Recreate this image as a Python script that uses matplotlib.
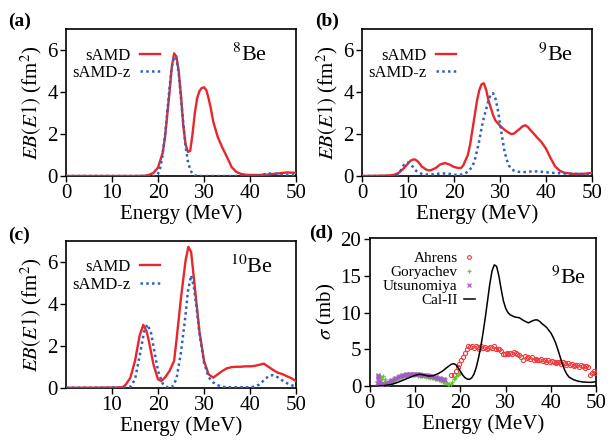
import matplotlib
matplotlib.use('Agg')
import matplotlib.pyplot as plt

plt.rcParams['font.family'] = ['Liberation Serif', 'DejaVu Serif']
plt.rcParams['mathtext.fontset'] = 'stix'

# ---- (a) 8Be ----
e_a_red = [0, 5, 10, 15, 17, 18, 19, 20, 21, 21.5, 22, 22.5, 23, 23.5, 24, 24.5, 25, 25.5, 26, 26.5,
           27, 27.5, 28, 28.5, 29, 29.5, 30, 30.5, 31, 31.5, 32, 33, 34, 35, 36, 37, 38, 39, 40, 42,
           44, 46, 48, 50]
b_a_red = [0, 0, 0, 0, 0.01, 0.05, 0.15, 0.4, 1.1, 1.8, 2.9, 4.0, 5.2, 5.85, 5.7, 5.0, 3.8, 2.4, 1.5, 1.15,
           1.2, 2.0, 3.0, 3.7, 4.05, 4.2, 4.23, 4.1, 3.7, 3.2, 2.6, 1.85, 1.35, 0.9, 0.43, 0.2, 0.1, 0.06, 0.05, 0.05,
           0.07, 0.12, 0.17, 0.15]
e_a_blue = [0, 5, 10, 15, 19, 19.5, 20, 20.5, 21, 21.5, 22, 22.5, 23, 23.5, 24, 24.5, 25, 25.5, 26, 26.5,
            27, 27.5, 28, 29, 35, 40, 42, 44, 46, 48, 50]
b_a_blue = [0, 0, 0, 0, 0, 0.02, 0.1, 0.4, 1.0, 1.9, 3.0, 4.2, 5.2, 5.7, 5.6, 4.9, 3.7, 2.5, 1.4, 0.7,
            0.3, 0.1, 0.03, 0, 0, 0, 0.03, 0.12, 0.1, 0.05, 0.02]

# ---- (b) 9Be ----
e_b_red = [0, 3, 5, 6, 7, 8, 9, 10, 10.5, 11, 11.5, 12, 12.5, 13, 14, 14.5, 15, 16, 17, 18,
           19, 20, 21, 21.5, 22, 23, 23.5, 24, 24.5, 25, 25.5, 26, 26.5, 27, 27.5, 28, 28.5, 29, 30, 31,
           32, 32.5, 33, 34, 35, 35.5, 36, 37, 38, 39, 40, 41, 42, 43, 44, 46, 48, 50]
b_b_red = [0, 0.01, 0.02, 0.03, 0.06, 0.15, 0.35, 0.6, 0.72, 0.78, 0.79, 0.72, 0.6, 0.45, 0.3, 0.27, 0.28, 0.38, 0.55, 0.62,
           0.55, 0.43, 0.38, 0.38, 0.5, 1.0, 1.5, 2.2, 2.9, 3.6, 4.1, 4.38, 4.42, 4.1, 3.6, 3.25, 2.9, 2.65, 2.4, 2.2,
           2.05, 2.0, 2.02, 2.2, 2.38, 2.42, 2.35, 2.1, 1.85, 1.62, 1.3, 0.85, 0.45, 0.25, 0.15, 0.1, 0.1, 0.15]
e_b_blue = [0, 7, 7.5, 8, 8.5, 9, 9.5, 10, 10.5, 11, 11.5, 12, 13, 14, 15, 16, 17, 18, 19, 20,
            21, 22, 23, 24, 24.5, 25, 25.5, 26, 26.5, 27, 27.5, 28, 28.5, 29, 29.5, 30, 30.5, 31, 31.5, 32,
            32.5, 33, 34, 35, 36, 37, 38, 39, 40, 42, 44, 46, 48, 50]
b_b_blue = [0, 0, 0.02, 0.1, 0.3, 0.5, 0.62, 0.64, 0.58, 0.45, 0.3, 0.2, 0.1, 0.07, 0.07, 0.09, 0.12, 0.12, 0.1, 0.06,
            0.05, 0.08, 0.2, 0.45, 0.75, 1.2, 1.7, 2.3, 2.8, 3.2, 3.6, 3.9, 3.95, 3.7, 3.2, 2.5, 1.8, 1.15, 0.75, 0.48,
            0.33, 0.26, 0.2, 0.18, 0.2, 0.22, 0.22, 0.2, 0.18, 0.14, 0.12, 0.1, 0.1, 0.08]

# ---- (c) 10Be ----
e_c_red = [0, 5, 10, 12, 12.5, 13, 14, 15, 16, 16.8, 17.5, 18, 19, 20, 20.7, 21.5, 22.5, 23.5, 24, 25,
           26, 26.6, 27.2, 28, 29, 30, 31, 32, 33, 34, 35, 36, 37, 38, 39, 40, 41, 42, 43, 44,
           45, 46, 47, 48, 49, 50]
b_c_red = [0, 0, 0.01, 0.02, 0.05, 0.15, 0.48, 1.28, 2.48, 3.0, 2.7, 2.24, 1.12, 0.4, 0.32, 0.48, 0.8, 1.28, 2.24, 4.3,
           6.08, 6.72, 6.48, 4.8, 2.7, 1.28, 0.64, 0.48, 0.64, 0.8, 0.93, 0.98, 1.0, 1.0, 1.02, 1.02, 1.04, 1.09, 1.15, 1.0,
           0.85, 0.72, 0.65, 0.55, 0.45, 0.32]
e_c_blue = [0, 5, 10, 13, 14, 15, 16, 17, 17.7, 18.5, 19, 20, 21, 22, 23, 24, 25, 26, 26.5, 27.2,
            27.8, 28.5, 29, 30, 31, 32, 33, 34, 35, 40, 41, 42, 43, 44, 45, 46, 47, 48, 49, 50]
b_c_blue = [0, 0, 0, 0, 0.05, 0.4, 1.5, 2.7, 3.02, 2.6, 2.0, 0.8, 0.2, 0.03, 0.02, 0.4, 1.7, 3.5, 4.6, 5.36,
            4.8, 3.6, 2.6, 1.2, 0.5, 0.25, 0.12, 0.05, 0.02, 0.02, 0.05, 0.15, 0.35, 0.55, 0.6, 0.5, 0.35, 0.22, 0.12, 0.05]

# ---- (d) 9Be cross section ----
e_ahrens = [18.0, 18.5, 19.0, 19.4, 19.8, 20.2, 20.6, 21.0, 21.4, 21.8,
            22.2, 22.6, 23.0, 23.4, 23.8, 24.2, 24.6, 25.0, 25.4, 25.8,
            26.2, 26.6, 27.0, 27.4, 27.8, 28.2, 28.6, 29.0, 29.4, 29.8,
            30.2, 30.6, 31.0, 31.4, 31.8, 32.2, 32.6, 33.0, 33.4, 33.8,
            34.2, 34.6, 35.0, 35.4, 35.8, 36.2, 36.6, 37.0, 37.4, 37.8,
            38.2, 38.6, 39.0, 39.4, 39.8, 40.2, 40.6, 41.0, 41.4, 41.8,
            42.2, 42.6, 43.0, 43.4, 43.8, 44.2, 44.6, 45.0, 45.4, 45.8,
            46.2, 46.6, 47.0, 47.4, 47.8, 48.2, 48.6, 49.0, 49.4, 49.8]
s_ahrens = [1.5, 1.5, 2.0, 2.6, 3.0, 3.5, 4.0, 4.5, 5.0, 5.4,
            5.3, 5.4, 5.2, 5.4, 5.3, 5.1, 5.4, 5.2, 5.3, 5.0,
            5.2, 5.3, 5.2, 5.4, 5.1, 5.0, 5.1, 4.8, 4.4, 4.3,
            4.5, 4.4, 4.5, 4.4, 4.6, 4.5, 4.4, 4.2, 4.0, 3.6,
            4.1, 3.8, 4.0, 3.7, 3.9, 3.5, 3.7, 3.6, 3.5, 3.7,
            3.4, 3.6, 3.3, 3.5, 3.2, 3.4, 3.3, 3.1, 3.3, 3.2,
            3.0, 3.2, 3.1, 2.9, 3.1, 2.9, 3.0, 2.7, 2.9, 2.8,
            2.6, 2.9, 2.7, 2.4, 2.7, 2.6, 1.5, 1.8, 2.0, 1.8]

e_gory = [2.3, 2.4, 2.5, 2.6, 2.8, 3.0, 3.1, 3.3, 3.5, 3.8,
          4.1, 4.4, 4.7, 5.0, 5.3, 5.6, 5.9, 6.2, 6.5, 6.8,
          7.1, 7.4, 7.7, 8.0, 8.3, 8.6, 8.9, 9.2, 9.5, 9.8,
          10.1, 10.4, 10.7, 11.0, 11.3, 11.6, 11.9, 12.2, 12.5, 12.8,
          13.1, 13.4, 13.7, 14.0, 14.3, 14.6, 14.9, 15.2, 15.5, 15.8,
          16.1, 16.4, 16.7, 17.0, 17.3, 17.6, 17.9, 18.2, 18.5, 18.8,
          19.1, 19.4, 19.7, 20.0]
s_gory = [1.4, 0.5, 1.2, 0.3, 1.0, 1.3, 0.6, 0.9, 0.4, 0.3,
          0.3, 0.4, 0.5, 0.6, 0.7, 0.8, 0.95, 1.05, 1.1, 1.2,
          1.25, 1.3, 1.35, 1.4, 1.4, 1.45, 1.45, 1.5, 1.45, 1.5,
          1.45, 1.45, 1.4, 1.4, 1.35, 1.35, 1.3, 1.3, 1.25, 1.2,
          1.2, 1.15, 1.1, 1.05, 1.0, 0.95, 0.9, 0.85, 0.8, 0.7,
          0.6, 0.5, 0.4, 0.35, 0.3, 0.25, 0.3, 0.6, 0.9, 1.1,
          1.3, 1.5, 1.6, 1.8]

e_utsu = [1.7, 1.75, 1.8, 1.85, 1.9, 1.95, 2.0, 2.1, 2.2, 2.4,
          3.2, 3.5, 3.8, 4.1, 4.4, 4.7, 5.0, 5.3, 5.6, 5.9,
          6.2, 6.5, 6.8, 7.1, 7.4, 7.7, 8.0, 8.3, 8.6, 8.9,
          9.2, 9.5, 9.8, 10.1, 10.4, 10.7, 11.0, 11.3, 11.6, 11.9,
          12.2, 12.5, 12.8, 13.1, 13.4, 13.7, 14.0, 14.3, 14.6, 14.9,
          15.2, 15.5, 15.8, 16.1, 16.4, 16.7]
s_utsu = [0.4, 1.2, 1.5, 1.4, 1.0, 0.7, 0.5, 0.4, 0.3, 0.25,
          0.3, 0.35, 0.45, 0.55, 0.65, 0.75, 0.85, 0.95, 1.05, 1.15,
          1.25, 1.3, 1.4, 1.45, 1.5, 1.55, 1.6, 1.6, 1.65, 1.65,
          1.65, 1.7, 1.65, 1.65, 1.6, 1.6, 1.6, 1.55, 1.55, 1.5,
          1.5, 1.45, 1.45, 1.4, 1.35, 1.3, 1.3, 1.25, 1.2, 1.15,
          1.1, 1.05, 1.0, 0.95, 0.9, 0.85]

e_cal = [2, 3, 4, 5, 6, 7, 8, 9, 10, 11, 12, 13, 14, 15, 16, 17, 18, 18.5, 19, 19.5,
         20, 20.5, 21, 21.5, 22, 22.5, 23, 23.5, 24, 24.5, 25, 25.5, 26, 26.5, 27, 27.5, 28, 28.5, 29, 29.5,
         30, 30.5, 31, 32, 33, 34, 35, 36, 36.5, 37, 37.5, 38, 39, 40, 40.5, 41, 41.5, 42, 42.5, 43,
         43.5, 44, 45, 46, 47, 48, 49, 50]
s_cal = [0, 0.05, 0.12, 0.25, 0.45, 0.7, 0.95, 1.2, 1.45, 1.6, 1.5, 1.35, 1.4, 1.65, 2.0, 2.5, 2.95, 3.05, 2.9, 2.5,
         2.0, 1.5, 1.15, 0.95, 0.9, 1.1, 1.6, 2.5, 3.8, 5.3, 7.2, 9.3, 11.6, 13.9, 15.7, 16.5, 16.3, 15.0, 13.2, 11.6,
         10.6, 10.0, 9.7, 9.4, 9.3, 8.9, 8.6, 8.9, 9.0, 9.0, 8.8, 8.5, 8.0, 7.2, 6.6, 5.9, 5.0, 4.0, 3.0, 2.2,
         1.6, 1.2, 0.85, 0.65, 0.55, 0.5, 0.5, 0.6]

red = '#e8262b'
blue = '#2f63b8'

fig = plt.figure(figsize=(6.14, 4.43), dpi=100)
ax_a = fig.add_axes([0.1075, 0.6027, 0.3746, 0.3312])
ax_b = fig.add_axes([0.5896, 0.6027, 0.3746, 0.3312])
ax_c = fig.add_axes([0.1075, 0.1248, 0.3746, 0.3312])
ax_d = fig.add_axes([0.6021, 0.1287, 0.3691, 0.3347])

panels = [
    (ax_a, e_a_red, b_a_red, e_a_blue, b_a_blue, r'$^{8}$Be', 0.72, [0, 10, 20, 30, 40, 50]),
    (ax_b, e_b_red, b_b_red, e_b_blue, b_b_blue, r'$^{9}$Be', 0.765, [0, 10, 20, 30, 40, 50]),
    (ax_c, e_c_red, b_c_red, e_c_blue, b_c_blue, r'$^{10}$Be', 0.715, [10, 20, 30, 40, 50]),
]

for ax, er, br, eb, bb, nuc, nx, xt in panels:
    ax.plot(er, br, color=red, lw=1.7, label='sAMD', zorder=3)
    ax.plot(eb, bb, color=blue, lw=1.8, ls=(0, (1, 1.3)), label='sAMD-z', zorder=4)
    ax.set_xlim(0, 50)
    ax.set_ylim(0, 7)
    ax.set_xticks(xt)
    ax.set_yticks([0, 2, 4, 6])
    ax.set_xlabel('Energy (MeV)', fontsize=15, labelpad=1)
    ax.set_ylabel(r'$EB(E1)$ (fm$^2$)', fontsize=15, labelpad=2)
    ax.text(nx, 0.825, nuc, transform=ax.transAxes, fontsize=16, va='center', ha='left')
    ax.legend(loc='upper right', bbox_to_anchor=(0.46, 0.955), frameon=False, fontsize=12,
              markerfirst=False, handlelength=1.2, handletextpad=0.6, labelspacing=0.1,
              borderpad=0.2)

ax_d.plot(e_ahrens, s_ahrens, 'o', ms=3.0, mfc='none', mec='#f03c3c', mew=0.8, label='Ahrens', zorder=3)
ax_d.plot(e_gory, s_gory, '+', ms=3.5, color='#6ac23a', mew=0.9, label='Goryachev', zorder=3)
ax_d.plot(e_utsu, s_utsu, 'x', ms=3.0, color='#a45cc4', mew=0.9, label='Utsunomiya', zorder=3)
ax_d.plot(e_cal, s_cal, color='black', lw=1.1, label='Cal-II', zorder=4)
ax_d.set_xlim(0, 50)
ax_d.set_ylim(0, 20.2)
ax_d.set_xticks([0, 10, 20, 30, 40, 50])
ax_d.set_yticks([0, 5, 10, 15, 20])
ax_d.set_xlabel('Energy (MeV)', fontsize=15, labelpad=1)
ax_d.set_ylabel(r'$\sigma$ (mb)', fontsize=15, labelpad=2)
ax_d.text(0.80, 0.73, r'$^{9}$Be', transform=ax_d.transAxes, fontsize=16, va='center', ha='left')
ax_d.legend(loc='upper right', bbox_to_anchor=(0.51, 0.98), frameon=False, fontsize=11,
            markerfirst=False, handlelength=0.7, handletextpad=0.4, labelspacing=0.02,
            borderpad=0.2, markerscale=0.9)

for ax in [ax_a, ax_b, ax_c, ax_d]:
    for sp in ax.spines.values():
        sp.set_linewidth(1.2)
    ax.tick_params(direction='out', length=4, width=1, labelsize=15, pad=2)

fig.text(0.013, 0.952, '(a)', fontsize=14, fontweight='bold', va='center')
fig.text(0.513, 0.952, '(b)', fontsize=14, fontweight='bold', va='center')
fig.text(0.013, 0.468, '(c)', fontsize=14, fontweight='bold', va='center')
fig.text(0.503, 0.474, '(d)', fontsize=14, fontweight='bold', va='center')

fig.savefig('out.png', dpi=100)
